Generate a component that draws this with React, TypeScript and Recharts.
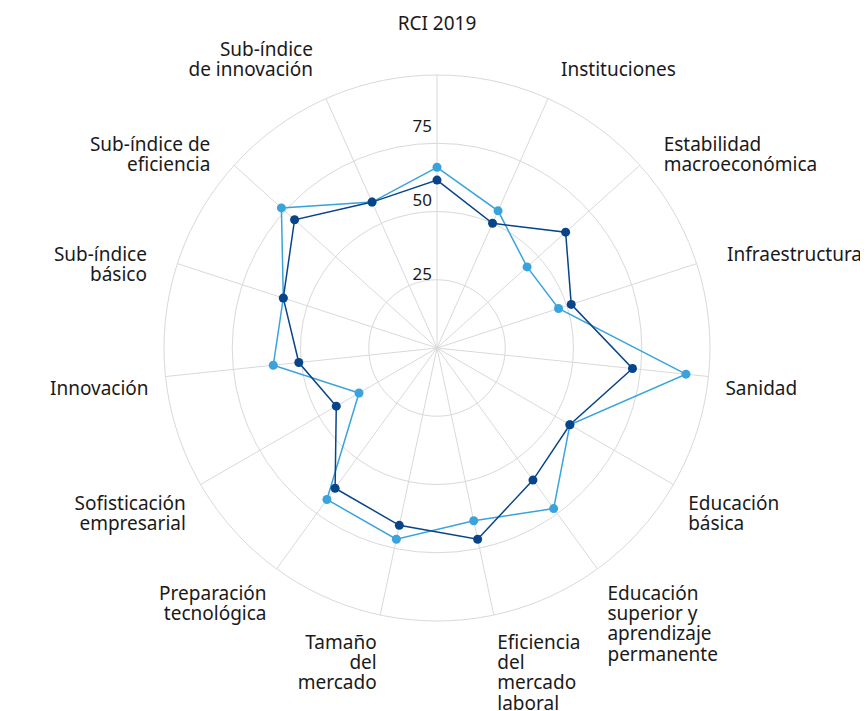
import React from 'react';
import {
  RadarChart,
  Radar,
  PolarGrid,
  PolarAngleAxis,
  PolarRadiusAxis,
} from 'recharts';

// categorías (los saltos de línea marcan cómo se parte la etiqueta)
const categories = [
  'RCI 2019',
  'Instituciones',
  'Estabilidad\nmacroeconómica',
  'Infraestructura',
  'Sanidad',
  'Educación\nbásica',
  'Educación\nsuperior y\naprendizaje\npermanente',
  'Eficiencia\ndel\nmercado\nlaboral',
  'Tamaño\ndel\nmercado',
  'Preparación\ntecnológica',
  'Sofisticación\nempresarial',
  'Innovación',
  'Sub-índice\nbásico',
  'Sub-índice de\neficiencia',
  'Sub-índice\nde innovación',
];

const seriesLight = [66.2, 55.0, 44.4, 46.8, 91.7, 56.2, 72.7, 64.7, 71.6, 68.6, 33.0, 60.3, 59.2, 76.7, 58.5];
const seriesDark = [61.5, 50.0, 63.4, 51.7, 72.0, 56.2, 59.8, 71.6, 66.4, 63.5, 42.6, 50.9, 59.2, 70.2, 58.5];

const radiusTicks = [0, 25, 50, 75, 100];
const shownRadiusTicks = [25, 50, 75];

const data = categories.map((name, i) => ({
  name,
  light: seriesLight[i],
  dark: seriesDark[i],
}));

const W = 860;
const H = 703;
const CX = 429;
const CY = 340;
const OUTER = 273;
const LINE_H = 20.3;
const FONT = '"Noto Sans", "Open Sans", sans-serif';
const TEXT = '#1a1a1a';
const GRID = '#d9d9d9';
const LIGHT = '#3aa3dc';
const DARK = '#08448a';

function AngleTick(props: any) {
  const value: string = props.payload?.value ?? '';
  const idx = categories.indexOf(value);
  const angle = ((90 - (idx * 360) / categories.length) * Math.PI) / 180;
  const cos = Math.cos(angle);
  const sin = Math.sin(angle);
  const lines = value.split('\n');
  const lower = sin < 0;
  const R = lower ? 290 : 305;
  const x = CX + R * cos;
  let y = CY - R * sin + (lower ? 10 : 0);
  // etiquetas de arriba: la última línea queda en el punto
  if (sin > 0.85) y -= (lines.length - 1) * LINE_H;
  if (sin > 0.99) y -= 20;
  const anchor = Math.abs(cos) < 0.05 ? 'middle' : cos > 0 ? 'start' : 'end';
  return (
    <text
      x={x}
      y={y}
      textAnchor={anchor}
      dominantBaseline="central"
      fill={TEXT}
      fontSize={19}
      fontFamily={FONT}
    >
      {lines.map((l, i) => (
        <tspan key={i} x={x} dy={i === 0 ? 0 : LINE_H}>
          {l}
        </tspan>
      ))}
    </text>
  );
}

function RadiusTick(props: any) {
  const v = props.payload?.value;
  if (!shownRadiusTicks.includes(v)) return <g />;
  const r = CY - props.y;
  const ty = CY - r * 1.087;
  return (
    <text
      x={CX - 5}
      y={ty}
      textAnchor="end"
      dominantBaseline="central"
      fill={TEXT}
      fontSize={17}
      fontFamily={FONT}
    >
      {v}
    </text>
  );
}

const makeDot = (color: string) => (p: any) => (
  <circle key={`${color}-${p.index}`} cx={p.cx} cy={p.cy} r={4.5} fill={color} />
);

export default function App() {
  return (
    <RadarChart
      width={W}
      height={H}
      data={data}
      cx={CX}
      cy={CY}
      outerRadius={OUTER}
      startAngle={90}
      endAngle={-270}
    >
      <PolarGrid gridType="circle" stroke={GRID} strokeWidth={1} />
      <PolarAngleAxis dataKey="name" tick={AngleTick} axisLine={false} tickLine={false} />
      <PolarRadiusAxis
        angle={90}
        domain={[0, 100]}
        ticks={radiusTicks as any}
        tick={RadiusTick}
        axisLine={false}
        tickLine={false}
      />
      <Radar
        dataKey="light"
        stroke={LIGHT}
        strokeWidth={1.5}
        fill="none"
        fillOpacity={0}
        dot={makeDot(LIGHT)}
        isAnimationActive={false}
      />
      <Radar
        dataKey="dark"
        stroke={DARK}
        strokeWidth={1.5}
        fill="none"
        fillOpacity={0}
        dot={makeDot(DARK)}
        isAnimationActive={false}
      />
    </RadarChart>
  );
}
